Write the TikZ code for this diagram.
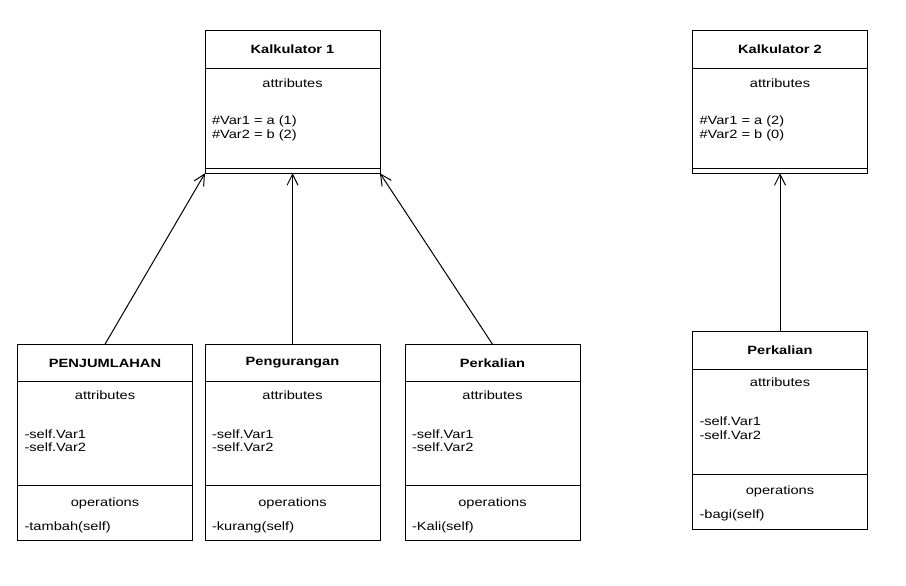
\documentclass[tikz,border=0pt]{standalone}
\usepackage{fontspec}
\setmainfont{Liberation Sans}[FakeStretch=1.22]
\usetikzlibrary{positioning,arrows.meta}

\begin{document}
\begin{tikzpicture}[x=1pt,y=-1pt,->,>={Straight Barb[length=11pt,width=11pt]},line width=1pt,
    font=\fontsize{12}{13.5}\selectfont,
    head/.style={draw,rectangle,minimum width=175pt,minimum height=37.5pt,inner sep=0pt,outer sep=0pt,font=\fontsize{12}{13.5}\selectfont\bfseries},
    part/.style={draw,rectangle,minimum width=175pt,minimum height=#1,inner sep=0pt,outer sep=0pt},
    title/.style={inner sep=0pt,anchor=base},
    rows/.style={inner sep=0pt,anchor=base west,align=left}]

    \useasboundingbox (0,0) rectangle (906,586);

    % parent classes
    \node[head] (k1) at (292.5,49.5) {Kalkulator 1};
    \node[part=100pt] (k1a) [below=0pt of k1] {};
    \node[part=5pt] (k1o) [below=0pt of k1a] {};
    \node[title] at ([yshift=-19.5pt]k1a.north) {attributes};
    \node[rows] at ([xshift=6.5pt,yshift=-70pt]k1a.north west) {\#Var1 = a (1)\\\#Var2 = b (2)};

    \node[head] (k2) at (780,49.5) {Kalkulator 2};
    \node[part=100pt] (k2a) [below=0pt of k2] {};
    \node[part=5pt] (k2o) [below=0pt of k2a] {};
    \node[title] at ([yshift=-19.5pt]k2a.north) {attributes};
    \node[rows] at ([xshift=6.5pt,yshift=-70pt]k2a.north west) {\#Var1 = a (2)\\\#Var2 = b (0)};

    % child classes
    \node[head] (b1) at (105,363) {PENJUMLAHAN};
    \node[part=104pt] (b1a) [below=0pt of b1] {};
    \node[part=55pt] (b1o) [below=0pt of b1a] {};
    \node[title] at ([yshift=-17.5pt]b1a.north) {attributes};
    \node[rows] at ([xshift=6.5pt,yshift=-70pt]b1a.north west) {-self.Var1\\-self.Var2};
    \node[title] at ([yshift=-20.5pt]b1o.north) {operations};
    \node[rows] at ([xshift=6.5pt,yshift=-44.5pt]b1o.north west) {-tambah(self)};

    \node[head] (b2) at (292.5,363) {Pengurangan};
    \node[part=104pt] (b2a) [below=0pt of b2] {};
    \node[part=55pt] (b2o) [below=0pt of b2a] {};
    \node[title] at ([yshift=-17.5pt]b2a.north) {attributes};
    \node[rows] at ([xshift=6.5pt,yshift=-70pt]b2a.north west) {-self.Var1\\-self.Var2};
    \node[title] at ([yshift=-20.5pt]b2o.north) {operations};
    \node[rows] at ([xshift=6.5pt,yshift=-44.5pt]b2o.north west) {-kurang(self)};

    \node[head] (b3) at (492.5,363) {Perkalian};
    \node[part=104pt] (b3a) [below=0pt of b3] {};
    \node[part=55pt] (b3o) [below=0pt of b3a] {};
    \node[title] at ([yshift=-17.5pt]b3a.north) {attributes};
    \node[rows] at ([xshift=6.5pt,yshift=-70pt]b3a.north west) {-self.Var1\\-self.Var2};
    \node[title] at ([yshift=-20.5pt]b3o.north) {operations};
    \node[rows] at ([xshift=6.5pt,yshift=-44.5pt]b3o.north west) {-Kali(self)};

    \node[head] (r1) at (780,350.5) {Perkalian};
    \node[part=105pt] (r1a) [below=0pt of r1] {};
    \node[part=55pt] (r1o) [below=0pt of r1a] {};
    \node[title] at ([yshift=-17.5pt]r1a.north) {attributes};
    \node[rows] at ([xshift=6.5pt,yshift=-70pt]r1a.north west) {-self.Var1\\-self.Var2};
    \node[title] at ([yshift=-20.5pt]r1o.north) {operations};
    \node[rows] at ([xshift=6.5pt,yshift=-44.5pt]r1o.north west) {-bagi(self)};

    \path
        (b1.north) edge (k1o.south west)
        (b2.north) edge (k1o.south)
        (b3.north) edge (k1o.south east)
        (r1.north) edge (k2o.south)
        ;
\end{tikzpicture}
\end{document}
